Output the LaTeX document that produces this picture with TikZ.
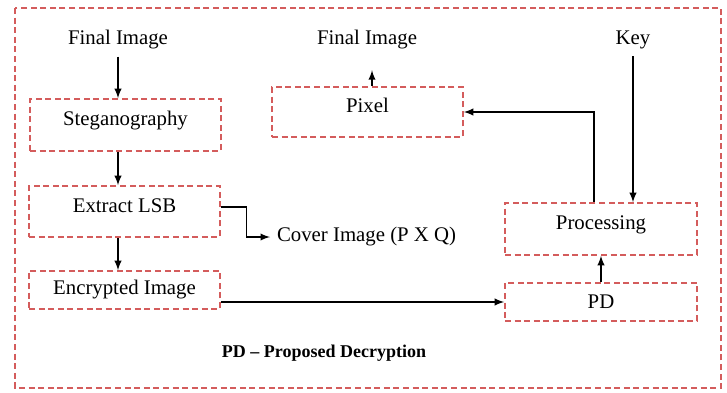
\documentclass[tikz,border=0pt]{standalone}
\usepackage{fontspec}
\setmainfont{Liberation Serif}
\usetikzlibrary{arrows, positioning}
\definecolor{dashred}{RGB}{212,92,92}
\tikzset{
    every node/.style={font=\fontsize{10.4}{12}\selectfont},
    block/.style={draw=dashred, line width=0.8pt, dash pattern=on 3pt off 1.8pt, minimum width=95.5pt, inner sep=0pt},
    tallblock/.style={block, text height=7.5pt, text depth=7pt},
    flow/.style={-latex, line width=0.65pt},
}

\begin{document}
\begin{tikzpicture}[x=0.5pt, y=-0.5pt]
        \useasboundingbox (0,0) rectangle (727,392);
        \draw[draw=dashred, line width=0.8pt, dash pattern=on 3pt off 1.8pt] (15,8) rectangle (721,388);

        \node (finalin) at (118,40) {Final Image};
        \node[tallblock, minimum height=26pt] (steg) at (125.5,125) {Steganography};
        \node[tallblock, minimum height=25.5pt] (extract) at (124.5,211.5) {Extract LSB};
        \node[block, minimum height=19pt] (encrypted) at (124.5,290) {Encrypted Image};
        \node[anchor=west] (cover) at (270,237) {Cover Image (P X Q)};
        \node (finalout) at (367,40) {Final Image};
        \node[tallblock, minimum height=25pt] (pixel) at (367.5,112) {Pixel};
        \node (key) at (633,40) {Key};
        \node[tallblock, minimum width=96pt, minimum height=26pt] (processing) at (601,229) {Processing};
        \node[block, minimum width=96pt, minimum height=19pt] (pd) at (601,302) {PD};
        \node[font=\bfseries\fontsize{9}{11}\selectfont] (caption) at (324,353) {PD \textendash\ Proposed Decryption};

        \draw[flow] (finalin.south) -- (finalin.south |- steg.north);
        \draw[flow] (finalin.south |- steg.south) -- (finalin.south |- extract.north);
        \draw[flow] (finalin.south |- extract.south) -- (finalin.south |- encrypted.north);
        \draw[flow] ([yshift=2.25pt]extract.east) -- ++(26,0) |- (cover.west);
        \draw[flow] (encrypted.east |- pd.west) -- (pd.west);
        \draw[flow] (pd) -- (processing);
        \draw[flow] (key.south) -- (key.south |- processing.north);
        \draw[flow] ([xshift=-3.5pt]processing.north) |- (pixel.east);
        \draw[flow, shorten >=3pt] ([xshift=2.25pt]pixel.north) -- ++(0,-22);
\end{tikzpicture}
\end{document}
